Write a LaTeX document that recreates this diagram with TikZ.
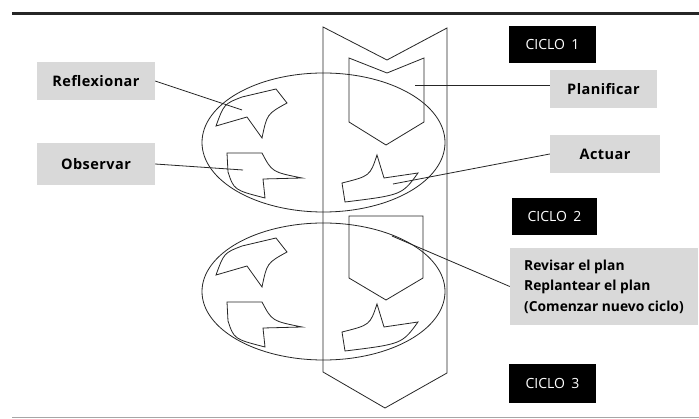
\documentclass[tikz,border=0pt]{standalone}
\usepackage{fontspec}
\setmainfont{Open Sans}
\newfontfamily\lblfont[LetterSpace=3]{Open Sans}
\definecolor{labelgray}{gray}{0.85}
\begin{document}
\begin{tikzpicture}[x=1pt,y=-1pt,
  outl/.style={draw=black!85,line width=0.8pt,line join=miter},
  conn/.style={draw=black!85,line width=0.8pt},
  graylabel/.style={fill=labelgray,inner sep=0pt,font=\lblfont\bfseries\fontsize{14.5}{16}\selectfont,text=black},
  cyclebox/.style={fill=black,text=white,inner sep=0pt,minimum width=87pt,minimum height=37pt,font=\fontsize{14}{16}\selectfont}]
\useasboundingbox (0,0) rectangle (699,419);
\fill[white] (0,0) rectangle (699,419);
% top and bottom rules
\draw[line width=2.2pt,black!85] (12,13.5) -- (699,13.5);
\draw[line width=0.6pt,black!35] (12,417.5) -- (699,417.5);
% big chevron arrow
\draw[outl] (323,27) -- (387,60) -- (447,28) -- (447,373) -- (385,408) -- (323,372) -- cycle;
% upper cycle
\draw[outl] (323.5,142.5) ellipse [x radius=121.5, y radius=69.5];
\draw[outl] (349,58) -- (387,73) -- (424,58) -- (424,122) -- (386,145) -- (349,122) -- cycle;
\draw[outl] (216,126) -- (247,117) -- (262,138) .. controls (267,114) .. (287,103) -- (276,89) -- (242,97) .. controls (224,104) .. (216,126) -- cycle;
\draw[outl] (227,153) -- (262,153) .. controls (272,172) .. (302,178) -- (263,179) -- (265,198) .. controls (234,190) .. (228,172) -- cycle;
\draw[outl] (345,202) -- (342,183) .. controls (370,176) .. (377,155) -- (384,178) -- (418,173) .. controls (402,195) .. (345,202) -- cycle;
% lower cycle
\draw[outl] (323.5,291.5) ellipse [x radius=121.5, y radius=68.5];
\draw[outl] (349,216) -- (423,216) -- (423,278) -- (386,300) -- (349,278) -- cycle;
\begin{scope}[yshift=-149pt]
\draw[outl] (216,126) -- (247,117) -- (262,138) .. controls (267,114) .. (287,103) -- (276,89) -- (242,97) .. controls (224,104) .. (216,126) -- cycle;
\draw[outl] (227,153) -- (262,153) .. controls (272,172) .. (302,178) -- (263,179) -- (265,198) .. controls (234,190) .. (228,172) -- cycle;
\draw[outl] (345,202) -- (342,183) .. controls (370,176) .. (377,155) -- (384,178) -- (418,173) .. controls (402,195) .. (345,202) -- cycle;
\end{scope}
% labels
\node[graylabel,minimum width=118pt,minimum height=38pt] (refl) at (96,81) {Reflexionar};
\node[graylabel,minimum width=118pt,minimum height=42pt] (obs) at (96,164) {Observar};
\node[graylabel,minimum width=107pt,minimum height=38pt] (plan) at (603.5,89) {Planificar};
\node[graylabel,minimum width=110pt,minimum height=38pt] (act) at (605,154) {Actuar};
\node[fill=labelgray,inner sep=0pt,minimum width=188pt,minimum height=77pt] (rev) at (604,286.5) {};
\node[anchor=west,inner sep=0pt,align=left,text=black,font=\bfseries\fontsize{13.8}{20.5}\selectfont] (revtext) at (524,286.5) {Revisar el plan\\Replantear el plan\\(Comenzar nuevo ciclo)};
\node[cyclebox] (c1) at (552.5,44.5) {CICLO\hspace{0.45em}1};
\node[cyclebox,minimum width=85pt] (c2) at (554.5,216.5) {CICLO\hspace{0.45em}2};
\node[cyclebox,minimum height=39pt] (c3) at (552.5,383.5) {CICLO\hspace{0.45em}3};
% connector end points
\coordinate (rflx) at (242,110);
\coordinate (obsv) at (243,170);
\coordinate (plnf) at (415,85);
\coordinate (actu) at (393,184);
\coordinate (revi) at (392,236);
\draw[conn] (refl.east) -- (rflx);
\draw[conn] (obs.east) -- (obsv);
\draw[conn] (plnf) -- (plnf -| plan.west);
\draw[conn] (act.west) -- (actu);
\draw[conn] (rev.west) -- (revi);
\end{tikzpicture}
\end{document}
